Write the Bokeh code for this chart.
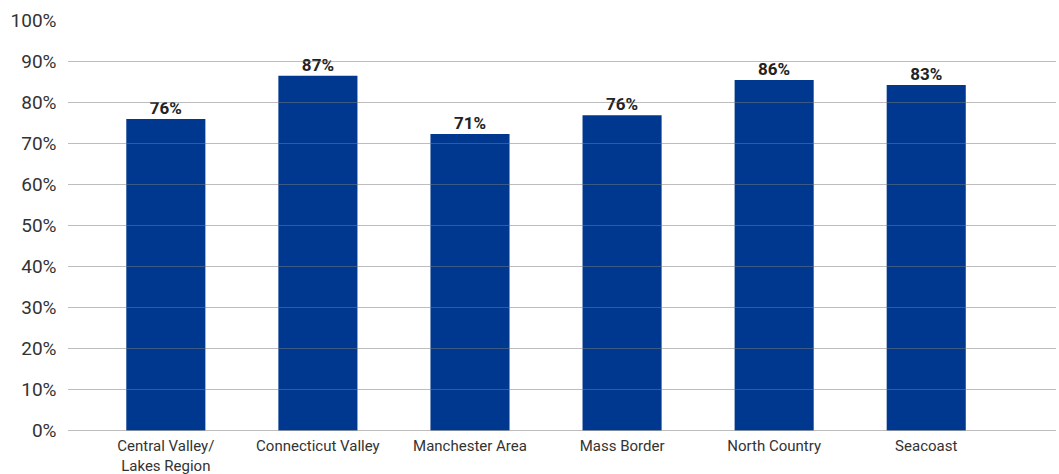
from bokeh.plotting import figure
from bokeh.models import ColumnDataSource, Range1d, FixedTicker
from bokeh.core.properties import value
from bokeh.embed import file_html
from bokeh.resources import INLINE

categories = ["Central Valley/\nLakes Region", "Connecticut Valley", "Manchester Area",
              "Mass Border", "North Country", "Seacoast"]
values = [76.0, 86.5, 72.3, 76.9, 85.5, 84.3]
labels = ["76%", "87%", "71%", "76%", "86%", "83%"]
y_ticks = [0, 10, 20, 30, 40, 50, 60, 70, 80, 90, 100]

xs = list(range(len(categories)))
src = ColumnDataSource(dict(x=xs, top=values, label=labels, cat=categories, base=[0] * len(xs)))

p = figure(width=1059, height=474, output_backend="svg", toolbar_location=None,
           x_range=Range1d(-0.64, 5.85), y_range=Range1d(-10.7, 100),
           min_border_left=68, min_border_right=4, min_border_top=20, min_border_bottom=0)
p.outline_line_color = None
p.background_fill_color = "white"

p.vbar(x="x", top="top", bottom=0, width=0.52, source=src,
       fill_color="#00388F", line_color=None)
p.text(x="x", y="top", text="label", source=src, text_align="center",
       text_baseline="bottom", y_offset=-1, text_font=value("Roboto"),
       text_font_size="17px", text_font_style="bold", text_color="#222222")
# category labels under the bars
p.text(x="x", y="base", text="cat", source=src, text_align="center",
       text_baseline="top", y_offset=6, text_font=value("Roboto"),
       text_font_size="15px", text_color="#333333", text_line_height=1.15)

p.xgrid.visible = False
p.ygrid.ticker = FixedTicker(ticks=y_ticks)
p.ygrid.grid_line_color = "#7a7a7a"
p.ygrid.grid_line_dash = "1 1"
p.ygrid.grid_line_width = 1
p.ygrid.level = "overlay"

p.yaxis.ticker = FixedTicker(ticks=y_ticks)
p.yaxis.major_label_overrides = {t: f"{t}%" for t in y_ticks}
p.yaxis.axis_line_color = None
p.yaxis.major_tick_line_color = None
p.yaxis.minor_tick_line_color = None
p.yaxis.major_label_text_font = "Roboto"
p.yaxis.major_label_text_font_size = "19px"
p.yaxis.major_label_text_color = "#333333"
p.yaxis.major_label_standoff = 6

p.xaxis.visible = False

open("out.html", "w").write(file_html(p, INLINE))
